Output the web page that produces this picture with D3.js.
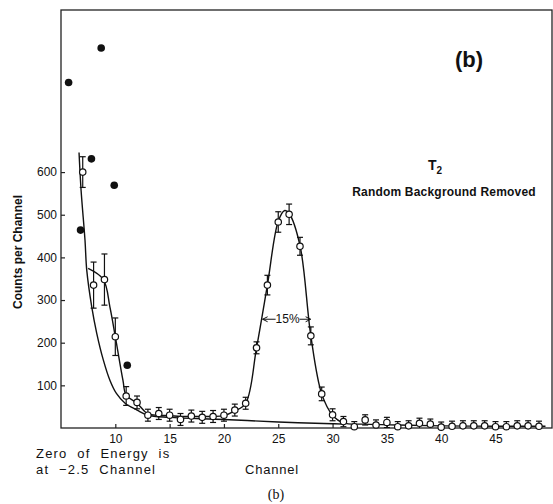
<!DOCTYPE html>
<html>
<head>
<meta charset="utf-8">
<script src="https://cdn.jsdelivr.net/npm/d3@7"></script>
<style>
  body { margin: 0; background: #fff; }
  text { font-family: "Liberation Sans", Arial, sans-serif; fill: #111; }
</style>
</head>
<body>
<svg id="chart" width="553" height="504"></svg>
<script>
// open circles: channel, counts, error
var channels = d3.range(7, 50);
var counts = [600, 335, 348, 214, 75, 60, 30, 34, 30, 20, 28, 25, 27, 30, 42, 58,
  188, 335, 483, 501, 426, 216, 80, 31,
  15, 3, 19, 7, 13, 3, 5, 11, 9, 2, 4, 5, 5, 5, 3, 3, 5, 5, 4];
var errors = [36, 54, 60, 44, 22, 15, 14, 14, 14, 14, 14, 14, 14, 14, 14, 14,
  14, 23, 24, 24, 21, 21, 16, 14,
  12, 12, 12, 12, 12, 12, 12, 12, 12, 12, 12, 12, 12, 12, 12, 12, 12, 12, 12];

// filled dots (before background removal)
var rawChannels = [5.7, 6.8, 7.8, 8.7, 9.9, 11.1];
var rawCounts = [810, 464, 631, 891, 569, 147];

// curve drawn through the data
var fitChannels = [7.5, 8.9, 9.5, 10, 10.7, 11, 12, 13, 14, 15, 16, 17, 18, 19, 20, 21, 22,
  23, 24, 25, 25.6, 26, 27, 28, 29, 30, 31, 33, 36, 40, 45, 49.6];
var fitCounts = [374, 348, 284, 214, 112, 77, 58, 33, 30, 29, 27, 27, 27, 27, 29, 40, 58,
  188, 335, 485, 510, 503, 428, 216, 80, 30, 12, 9, 7, 5, 4, 4];

// background curve
var bgChannels = [6.66, 6.85, 7.21, 7.37, 7.83, 8.29, 8.9, 9.5, 10.1, 10.9, 12, 13, 15, 20, 25, 30, 31];
var bgCounts = [646, 557, 440, 370, 284, 222, 159, 112, 81, 58, 42, 30, 25, 20, 14, 10, 9];

var xTicks = [10, 15, 20, 25, 30, 35, 40, 45];
var yTicks = [100, 200, 300, 400, 500, 600];

var svg = d3.select("#chart");
var x = d3.scaleLinear().domain([5, 50.2]).range([61, 552]);
var y = d3.scaleLinear().domain([0, 980]).range([428, 10]);

// frame
svg.append("rect")
  .attr("x", x(5)).attr("y", y(980))
  .attr("width", x(50.2) - x(5)).attr("height", y(0) - y(980))
  .attr("fill", "none").attr("stroke", "#222").attr("stroke-width", 1.3);

var xAxis = svg.append("g")
  .attr("transform", "translate(0," + y(0) + ")")
  .call(d3.axisBottom(x).tickValues(xTicks).tickSize(-4).tickPadding(6));
var yAxis = svg.append("g")
  .attr("transform", "translate(" + x(5) + ",0)")
  .call(d3.axisLeft(y).tickValues(yTicks).tickSize(-4).tickPadding(4));
[xAxis, yAxis].forEach(function (g) {
  g.select(".domain").remove();
  g.selectAll(".tick line").attr("stroke", "#222").attr("stroke-width", 1.2);
  g.selectAll(".tick text").attr("font-size", 12).attr("fill", "#111")
    .style("font-family", "Liberation Sans, Arial, sans-serif");
});

var plot = svg.append("g");
svg.append("clipPath").attr("id", "clip").append("rect")
  .attr("x", x(5)).attr("y", y(980)).attr("width", x(50.2) - x(5)).attr("height", y(0) - y(980));

var line = d3.line()
  .x(function (d) { return x(d[0]); })
  .y(function (d) { return y(d[1]); })
  .curve(d3.curveCatmullRom.alpha(0.5));

plot.append("path")
  .attr("d", line(d3.zip(bgChannels, bgCounts)))
  .attr("fill", "none").attr("stroke", "#111").attr("stroke-width", 1.4);
plot.append("path")
  .attr("clip-path", "url(#clip)")
  .attr("d", line(d3.zip(fitChannels, fitCounts)))
  .attr("fill", "none").attr("stroke", "#111").attr("stroke-width", 1.4);

var pts = channels.map(function (c, i) { return { c: c, v: counts[i], e: errors[i] }; });

// error bars
var eb = plot.append("g").attr("clip-path", "url(#clip)")
  .attr("stroke", "#111").attr("stroke-width", 1.2);
pts.forEach(function (d) {
  var top = y(d.v + d.e), bot = y(Math.max(d.v - d.e, 0));
  eb.append("line").attr("x1", x(d.c)).attr("x2", x(d.c)).attr("y1", top).attr("y2", bot);
  eb.append("line").attr("x1", x(d.c) - 3).attr("x2", x(d.c) + 3).attr("y1", top).attr("y2", top);
  if (d.v - d.e > 0)
    eb.append("line").attr("x1", x(d.c) - 3).attr("x2", x(d.c) + 3).attr("y1", bot).attr("y2", bot);
});

plot.selectAll("circle.open").data(pts).enter().append("circle")
  .attr("class", "open")
  .attr("cx", function (d) { return x(d.c); })
  .attr("cy", function (d) { return y(d.v); })
  .attr("r", 3.2)
  .attr("fill", "#fff").attr("stroke", "#111").attr("stroke-width", 1.2);

plot.selectAll("circle.raw").data(d3.zip(rawChannels, rawCounts)).enter().append("circle")
  .attr("class", "raw")
  .attr("cx", function (d) { return x(d[0]); })
  .attr("cy", function (d) { return y(d[1]); })
  .attr("r", 3.8).attr("fill", "#111");

// 15% width marker
var hy = y(255), hx1 = x(23.56), hx2 = x(27.98), tx = (hx1 + hx2) / 2;
var ann = svg.append("g").attr("stroke", "#111").attr("stroke-width", 1);
ann.append("line").attr("x1", hx1).attr("x2", tx - 11).attr("y1", hy).attr("y2", hy);
ann.append("line").attr("x1", tx + 13).attr("x2", hx2).attr("y1", hy).attr("y2", hy);
ann.append("path").attr("d", "M" + (hx1 + 5) + "," + (hy - 2.5) + "L" + hx1 + "," + hy + "L" + (hx1 + 5) + "," + (hy + 2.5)).attr("fill", "none");
ann.append("path").attr("d", "M" + (hx2 - 5) + "," + (hy - 2.5) + "L" + hx2 + "," + hy + "L" + (hx2 - 5) + "," + (hy + 2.5)).attr("fill", "none");
svg.append("text").attr("x", tx + 1).attr("y", hy + 4).attr("text-anchor", "middle")
  .attr("font-size", 12).text("15%");

// labels
svg.append("text").attr("transform", "translate(22,252) rotate(-90)")
  .attr("text-anchor", "middle").attr("font-size", 12).attr("font-weight", "bold")
  .text("Counts per Channel");
svg.append("text").attr("x", 469).attr("y", 67).attr("text-anchor", "middle")
  .attr("font-size", 22).attr("font-weight", "bold").text("(b)");
var t2 = svg.append("text").attr("x", 428).attr("y", 170).attr("font-size", 14).attr("font-weight", "bold");
t2.append("tspan").text("T");
t2.append("tspan").attr("dy", 4).attr("font-size", 10).text("2");
svg.append("text").attr("x", 444).attr("y", 196).attr("text-anchor", "middle")
  .attr("font-size", 12).attr("font-weight", "bold").style("letter-spacing", "0.2px")
  .text("Random Background Removed");
svg.append("text").attr("x", 36).attr("y", 458).attr("font-size", 13).style("letter-spacing", "1.2px")
  .style("word-spacing", "5px").text("Zero of Energy is");
svg.append("text").attr("x", 36).attr("y", 474).attr("font-size", 13).style("letter-spacing", "1.2px")
  .style("word-spacing", "5px").text("at −2.5 Channel");
svg.append("text").attr("x", 272).attr("y", 474).attr("text-anchor", "middle")
  .attr("font-size", 13).style("letter-spacing", "0.8px").text("Channel");
svg.append("text").attr("x", 276).attr("y", 499).attr("text-anchor", "middle")
  .attr("font-size", 14).style("font-family", "Liberation Serif, serif").text("(b)");
</script>
</body>
</html>
